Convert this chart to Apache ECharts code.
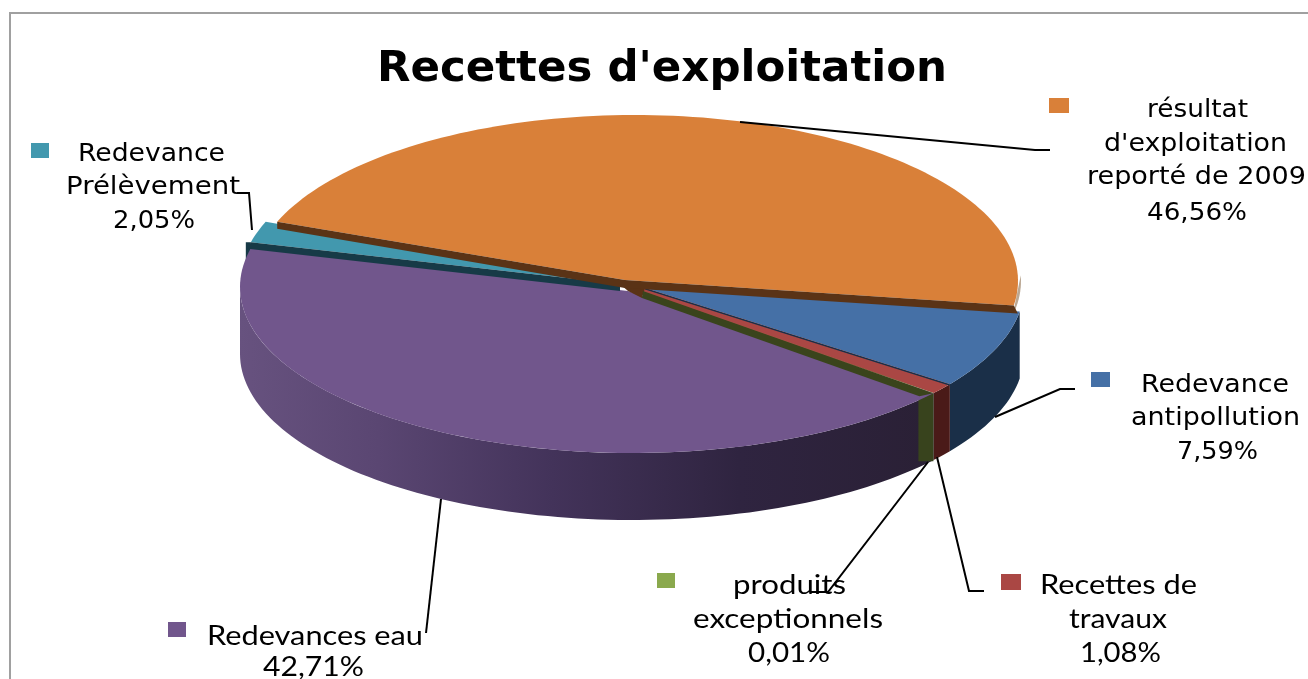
<!DOCTYPE html>
<html>
<head>
<meta charset="utf-8">
<style>html,body{margin:0;padding:0;background:#fff;overflow:hidden}#c{width:1308px;height:679px}</style>
<script src="https://cdn.jsdelivr.net/npm/echarts@6/dist/echarts.min.js"></script>
</head>
<body>
<div id="c"></div>
<script>
// ---- data ----
const chartTitle = "Recettes d'exploitation";
const categories = ["Redevance antipollution", "Recettes de travaux", "produits exceptionnels", "Redevances eau", "Redevance Prélèvement", "résultat d'exploitation reporté de 2009"];
const shares = [7.59, 1.08, 0.01, 42.71, 2.05, 46.56];
const labelLines = [
  ["Redevance", "antipollution", "7,59%"],
  ["Recettes de", "travaux", "1,08%"],
  ["produits", "exceptionnels", "0,01%"],
  ["Redevances eau", "42,71%"],
  ["Redevance", "Prélèvement", "2,05%"],
  ["résultat", "d'exploitation", "reporté de 2009", "46,56%"]
];

// ---- layout and style ----
const firstAngle = 8.5, depth = 67;
const lower = {cx: 632, cy: 287, rx: 392, ry: 166};
const sliceLook = [
  {face: '#4570a6', side: '#1a2f48', ell: lower, apex: [645, 288]},
  {face: '#aa4744', side: '#4a1a18', ell: lower, apex: [645, 288], apex2: [641, 293]},
  {face: '#8aa94d', side: '#38431d', ell: lower, apex: [643, 291]},
  {face: '#71568c', ell: lower, apex: [628, 291],
   sideFill: [[0, '#67527f'], [0.2, '#5a4672'], [0.45, '#43335a'], [0.72, '#2f2440'], [1, '#2a2035']]},
  {face: '#4298ae', side: '#173a47', ell: {cx: 631, cy: 281, rx: 391, ry: 166}, apex: [620, 284]},
  {face: '#d98039', side: '#5a3316', ell: {cx: 635, cy: 281, rx: 383, ry: 166}, apex: [625, 280]}
];
// inner walls: slice, which edge, colour, offset at the rim, offset at the centre
const walls = [
  {i: 0, edge: 1, color: '#1a2f48', rim: [0, 1.5], hub: [0, 1.5]},
  {i: 2, edge: 1, color: '#3a441c', rim: [-14, 3], hub: [-1, 7]},
  {i: 4, edge: 0, color: '#173a47', rim: [-3, 6.5], hub: [0, 7]},
  {i: 5, edge: 0, color: '#5a3316', rim: [0, 7], hub: [0, 8]},
  {i: 5, edge: 1, color: '#5a3316', rim: [4, 8], hub: [0, 8]}
];
const hubColor = '#5a3316';
const thinSides = [{i: 2, width: 15, height: 65, drop: 3, edge: 1}, {i: 4, width: 5, height: 18, drop: 0, edge: 0}];
const orangeSliver = {i: 5, shift: 3, from: -2, to: 12, color: '#bba894'};
const keyBoxes = [[1091, 372, 19, 15], [1001, 574, 20, 16], [657, 573, 18, 15], [168, 622, 18, 15], [31, 143, 18, 15], [1049, 98, 20, 15]];
const leaders = [
  [[995, 417], [1060, 389], [1075, 389]],
  [[937, 457], [969, 591], [984, 591]],
  [[928, 462], [828, 592], [811, 592]],
  [[441, 499], [426, 633]],
  [[237, 193], [249, 193], [252, 230]],
  [[740, 122], [1035, 150], [1050, 150]]
];
const dj = 'DejaVu Sans', la = 'Lato';
// one row per text line: left, right, baseline
const lineBoxes = [
  [[1141, 1289, 393], [1131, 1300, 426], [1177, 1258, 460]],
  [[1040, 1197, 594], [1069, 1167, 628], [1080, 1161, 662]],
  [[733, 846, 594], [693, 883, 628], [748, 830, 662]],
  [[207, 423, 645], [263, 364, 676]],
  [[78, 225, 162], [66, 240, 195], [113, 195, 229]],
  [[1147, 1248, 118], [1104, 1287, 152], [1087, 1306, 185], [1147, 1247, 221]]
];
const lineFont = [dj, la, la, la, dj, dj];
const labelSize = [24, 27, 27, 27, 24, 24];

const meas = document.createElement('canvas').getContext('2d');
function fitScale(text, family, size, width) {
  meas.font = size + 'px "' + family + '"';
  return width / meas.measureText(text).width;
}
const rad = d => d * Math.PI / 180;
const rim = (e, t, dy) => [e.cx + e.rx * Math.cos(rad(t)), e.cy + e.ry * Math.sin(rad(t)) + (dy || 0)];

const edges = [];
shares.reduce((acc, v) => { const next = acc + v * 3.6; edges.push([acc, next]); return next; }, firstAngle);

function arc(e, a, b, dy) {
  const n = Math.max(2, Math.ceil(Math.abs(b - a) / 1.5)), pts = [];
  for (let k = 0; k <= n; k++) pts.push(rim(e, a + (b - a) * k / n, dy));
  return pts;
}

function renderSlice(params, api) {
  const i = api.value(0), [a, b] = edges[i], look = sliceLook[i], e = look.ell, kids = [];
  // outer side
  const s = Math.max(a, 0), f = Math.min(b, 180);
  if (f > s) {
    const points = arc(e, s, f).concat(arc(e, f, s, depth));
    const fill = look.sideFill ? new echarts.graphic.LinearGradient(0, 0, 1, 0, look.sideFill.map(c => ({offset: c[0], color: c[1]}))) : look.side;
    kids.push({type: 'polygon', z2: 1, shape: {points}, style: {fill}});
  }
  // top face
  const facePts = [look.apex].concat(arc(e, a, b));
  if (look.apex2) facePts.push(look.apex2);
  kids.push({type: 'polygon', z2: 3 + (i === 5 ? 3 : 0), shape: {points: facePts}, style: {fill: look.face}});
  // the dark core where the slices meet
  if (i === 5) {
    const g = sliceLook[2].apex;
    kids.push({type: 'polygon', z2: 4.5, shape: {points: [
      sliceLook[4].apex, sliceLook[0].apex, [g[0] - 1, g[1] + 7], sliceLook[3].apex
    ]}, style: {fill: hubColor}});
  }
  // inner walls
  walls.filter(w => w.i === i).forEach(w => {
    const p = rim(e, w.edge ? b : a);
    kids.push({type: 'polygon', z2: i === 5 ? 7 : 5, shape: {points: [
      look.apex, p, [p[0] + w.rim[0], p[1] + w.rim[1]], [look.apex[0] + w.hub[0], look.apex[1] + w.hub[1]]
    ]}, style: {fill: w.color}});
  });
  // cut faces seen on the rim
  thinSides.filter(t => t.i === i).forEach(t => {
    const p = rim(e, t.edge ? b : a);
    kids.push({type: 'polygon', z2: 2, shape: {points: [
      p, [p[0] - t.width, p[1] + t.drop], [p[0] - t.width, p[1] + t.drop + t.height], [p[0], p[1] + t.drop + t.height]
    ]}, style: {fill: look.side}});
  });
  if (orangeSliver.i === i) {
    const shifted = {cx: e.cx + orangeSliver.shift, cy: e.cy, rx: e.rx, ry: e.ry};
    kids.push({type: 'polygon', z2: 0.5, shape: {points: arc(shifted, orangeSliver.from, orangeSliver.to)}, style: {fill: orangeSliver.color}});
  }
  // leader line
  kids.push({type: 'polyline', z2: 20, shape: {points: leaders[i]}, style: {stroke: '#000', lineWidth: 2, fill: 'none'}});
  // key box
  const kb = keyBoxes[i];
  kids.push({type: 'rect', z2: 20, shape: {x: kb[0], y: kb[1], width: kb[2], height: kb[3]}, style: {fill: look.face}});
  // label lines
  labelLines[i].forEach((line, k) => {
    const box = lineBoxes[i][k], fam = lineFont[i], size = labelSize[i];
    kids.push({type: 'text', z2: 19, x: box[0], y: box[2] - size * 0.36 + 1,
      scaleX: fitScale(line, fam, size, box[1] - box[0]),
      style: {text: line, fontFamily: fam, fontSize: size, fill: '#000', align: 'left', verticalAlign: 'middle'}});
  });
  return {type: 'group', children: kids};
}

const chart = echarts.init(document.getElementById('c'), null, {renderer: 'canvas'});
chart.setOption({
  animation: false,
  backgroundColor: '#fff',
  title: {text: chartTitle, left: 377, top: 48, padding: 0,
    textStyle: {fontFamily: dj, fontWeight: 'bold', fontSize: 43.5, color: '#000'}},
  graphic: [{type: 'rect', z: -1, shape: {x: 10, y: 13, width: 1500, height: 900}, style: {fill: 'none', stroke: '#a0a0a0', lineWidth: 2}}],
  series: [{
    type: 'custom', coordinateSystem: 'none', silent: true, clip: false,
    data: shares.map((v, i) => ({name: categories[i], value: [i, v]})),
    renderItem: renderSlice
  }]
});
</script>
</body>
</html>
